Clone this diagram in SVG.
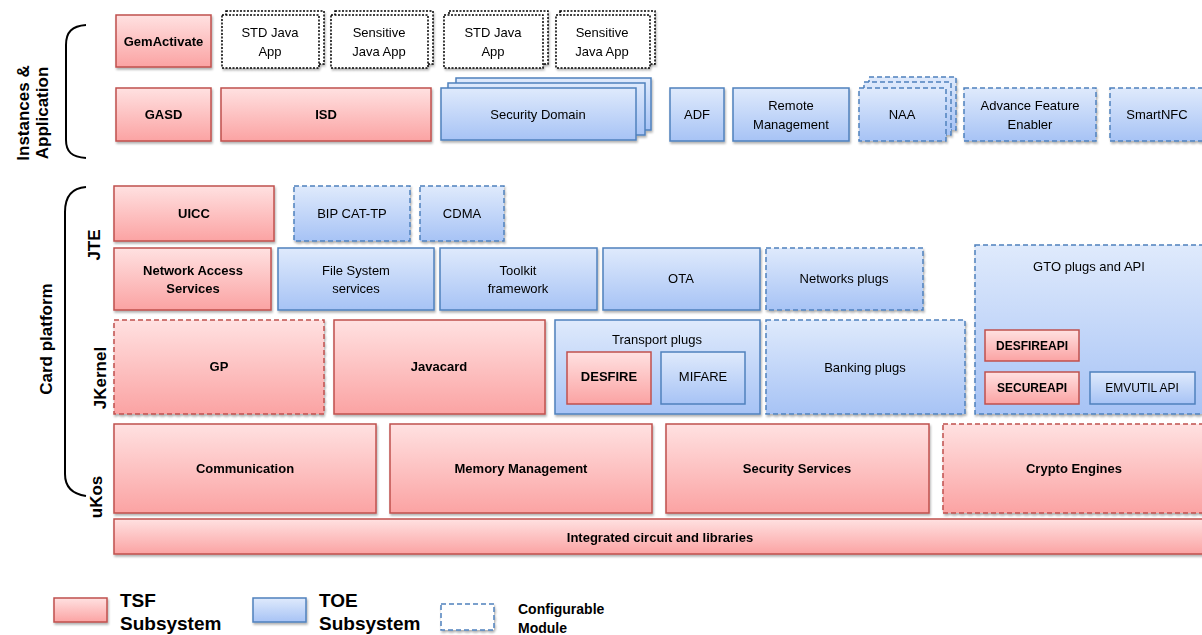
<svg xmlns="http://www.w3.org/2000/svg" width="1202" height="635" viewBox="0 0 1202 635">
<defs>
<linearGradient id="gr" x1="0" y1="0" x2="0" y2="1"><stop offset="0" stop-color="#ffe1e1"/><stop offset="1" stop-color="#fba3a3"/></linearGradient>
<linearGradient id="gb" x1="0" y1="0" x2="0" y2="1"><stop offset="0" stop-color="#dfeafc"/><stop offset="1" stop-color="#a7c3f5"/></linearGradient>
<filter id="sh" x="-10%" y="-10%" width="120%" height="130%"><feDropShadow dx="1" dy="2" stdDeviation="1.2" flood-color="#000" flood-opacity="0.3"/></filter>
<style>
.red{fill:url(#gr);stroke:#c0504d;stroke-width:1.5}
.blue{fill:url(#gb);stroke:#4f81bd;stroke-width:1.5}
.dash{stroke-dasharray:5 3}
.dot{fill:#fff;stroke:#000;stroke-width:1.5;stroke-dasharray:2 1.5}
.cfg{fill:#fff;stroke:#4f81bd;stroke-width:1.5;stroke-dasharray:5 3}
text{font-family:"Liberation Sans",Arial,sans-serif;font-size:13px;fill:#000;text-anchor:middle}
.b{font-weight:bold}
.s12{font-size:12px}
.side{font-size:17px;font-weight:bold}
.lg{font-size:19px;font-weight:bold;text-anchor:start}
.lg2{font-size:14px;font-weight:bold;text-anchor:start}
.brace{fill:none;stroke:#000;stroke-width:2}
</style>
</defs>
<rect width="1202" height="635" fill="#fff"/>

<g id="side-labels">
<path class="brace" d="M86,25 C72,26 66,32 66,45 L66,140 C66,152 72,157 86,158"/>
<text class="side" transform="translate(29,113) rotate(-90)">Instances &amp;</text>
<text class="side" transform="translate(48,113) rotate(-90)">Application</text>
<path class="brace" d="M86,187 C72,188 65,196 65,212 L65,474 C65,486 72,494 86,496"/>
<text class="side" transform="translate(52,339) rotate(-90)">Card platform</text>
<text class="side" transform="translate(100,245) rotate(-90)">JTE</text>
<text class="side" transform="translate(106,378) rotate(-90)">JKernel</text>
<text class="side" transform="translate(102,497) rotate(-90)">uKos</text>
</g>

<g filter="url(#sh)">
<g id="gemactivate"><rect class="red" x="116" y="15" width="95" height="52"/><text class="b" x="163.5" y="46">GemActivate</text></g>
<g id="stdjava1"><rect class="dot" x="226" y="11" width="98" height="53"/><rect class="dot" x="222" y="15" width="97" height="53"/><text x="270" y="37">STD Java</text><text x="270" y="56">App</text></g>
<g id="sensjava1"><rect class="dot" x="335" y="11" width="98" height="53"/><rect class="dot" x="331" y="15" width="97" height="53"/><text x="379" y="37">Sensitive</text><text x="379" y="56">Java App</text></g>
<g id="stdjava2"><rect class="dot" x="449" y="11" width="99" height="53"/><rect class="dot" x="444" y="15" width="99" height="53"/><text x="493" y="37">STD Java</text><text x="493" y="56">App</text></g>
<g id="sensjava2"><rect class="dot" x="560" y="11" width="95" height="53"/><rect class="dot" x="556" y="15" width="94" height="53"/><text x="602" y="37">Sensitive</text><text x="602" y="56">Java App</text></g>

<g id="gasd"><rect class="red" x="116" y="88" width="95" height="53"/><text class="b" x="163.5" y="119">GASD</text></g>
<g id="isd"><rect class="red" x="221" y="88" width="210" height="53"/><text class="b" x="326" y="119">ISD</text></g>
<g id="secdomain"><rect class="blue" x="456" y="78" width="195" height="52"/><rect class="blue" x="448" y="83" width="197" height="52"/><rect class="blue" x="441" y="88" width="195" height="52"/><text x="538" y="119">Security Domain</text></g>
<g id="adf"><rect class="blue" x="670" y="88" width="54" height="53"/><text x="697" y="119">ADF</text></g>
<g id="remote"><rect class="blue" x="733" y="88" width="116" height="53"/><text x="791" y="110">Remote</text><text x="791" y="129">Management</text></g>
<g id="naa"><rect class="blue dash" x="869" y="77" width="87" height="53"/><rect class="blue dash" x="864" y="82" width="87" height="53"/><rect class="blue dash" x="859" y="88" width="87" height="53"/><text x="902" y="119">NAA</text></g>
<g id="afe"><rect class="blue dash" x="964" y="88" width="132" height="53"/><text x="1030" y="110">Advance Feature</text><text x="1030" y="129">Enabler</text></g>
<g id="smartnfc"><rect class="blue dash" x="1110" y="88" width="100" height="53"/><text x="1157" y="119">SmartNFC</text></g>

<g id="uicc"><rect class="red" x="114" y="186" width="160" height="55"/><text class="b" x="194" y="218">UICC</text></g>
<g id="bip"><rect class="blue dash" x="294" y="186" width="116" height="55"/><text x="352" y="218">BIP CAT-TP</text></g>
<g id="cdma"><rect class="blue dash" x="420" y="186" width="84" height="55"/><text x="462" y="218">CDMA</text></g>

<g id="nas"><rect class="red" x="114" y="248" width="157" height="62"/><text class="b" x="193" y="275">Network Access</text><text class="b" x="193" y="293">Services</text></g>
<g id="fss"><rect class="blue" x="278" y="248" width="156" height="62"/><text x="356" y="275">File System</text><text x="356" y="293">services</text></g>
<g id="toolkit"><rect class="blue" x="440" y="248" width="157" height="62"/><text x="518" y="275">Toolkit</text><text x="518" y="293">framework</text></g>
<g id="ota"><rect class="blue" x="603" y="248" width="157" height="62"/><text x="681" y="283">OTA</text></g>
<g id="netplugs"><rect class="blue dash" x="766" y="248" width="157" height="62"/><text x="844" y="283">Networks plugs</text></g>

<g id="gto"><rect class="blue dash" x="975" y="245" width="240" height="169"/><text x="1089" y="271">GTO plugs and API</text>
<rect class="red" x="985" y="330" width="94" height="31"/><text class="b s12" x="1032" y="350">DESFIREAPI</text>
<rect class="red" x="985" y="372" width="94" height="32"/><text class="b s12" x="1032" y="392">SECUREAPI</text>
<rect class="blue" x="1090" y="372" width="105" height="32"/><text class="s12" x="1142" y="392">EMVUTIL API</text></g>

<g id="gp"><rect class="red dash" x="114" y="320" width="210" height="94"/><text class="b" x="219" y="371">GP</text></g>
<g id="javacard"><rect class="red" x="334" y="320" width="211" height="94"/><text class="b" x="439" y="371">Javacard</text></g>
<g id="transport"><rect class="blue" x="555" y="320" width="205" height="94"/><text x="657" y="344">Transport plugs</text>
<rect class="red" x="567" y="352" width="84" height="52"/><text class="b" x="609" y="381">DESFIRE</text>
<rect class="blue" x="661" y="352" width="84" height="52"/><text x="703" y="381">MIFARE</text></g>
<g id="banking"><rect class="blue dash" x="766" y="320" width="199" height="94"/><text x="865" y="372">Banking plugs</text></g>

<g id="comm"><rect class="red" x="114" y="424" width="262" height="89"/><text class="b" x="245" y="473">Communication</text></g>
<g id="memmgmt"><rect class="red" x="390" y="424" width="262" height="89"/><text class="b" x="521" y="473">Memory Management</text></g>
<g id="secserv"><rect class="red" x="666" y="424" width="263" height="89"/><text class="b" x="797" y="473">Security Services</text></g>
<g id="crypto"><rect class="red dash" x="943" y="424" width="270" height="89"/><text class="b" x="1074" y="473">Crypto Engines</text></g>
<g id="ic"><rect class="red" x="114" y="519" width="1100" height="35"/><text class="b" x="660" y="542">Integrated circuit and libraries</text></g>

<g id="legend">
<rect class="red" x="54" y="598" width="53" height="24"/>
<rect class="blue" x="253" y="598" width="53" height="24"/>
<rect class="cfg" x="441" y="604" width="53" height="26"/>
</g>
</g>
<g id="legend-text">
<text class="lg" x="120" y="607">TSF</text><text class="lg" x="120" y="630">Subsystem</text>
<text class="lg" x="319" y="607">TOE</text><text class="lg" x="319" y="630">Subsystem</text>
<text class="lg2" x="518" y="614">Configurable</text><text class="lg2" x="518" y="633">Module</text>
</g>
<g id="connectors"/>
</svg>
